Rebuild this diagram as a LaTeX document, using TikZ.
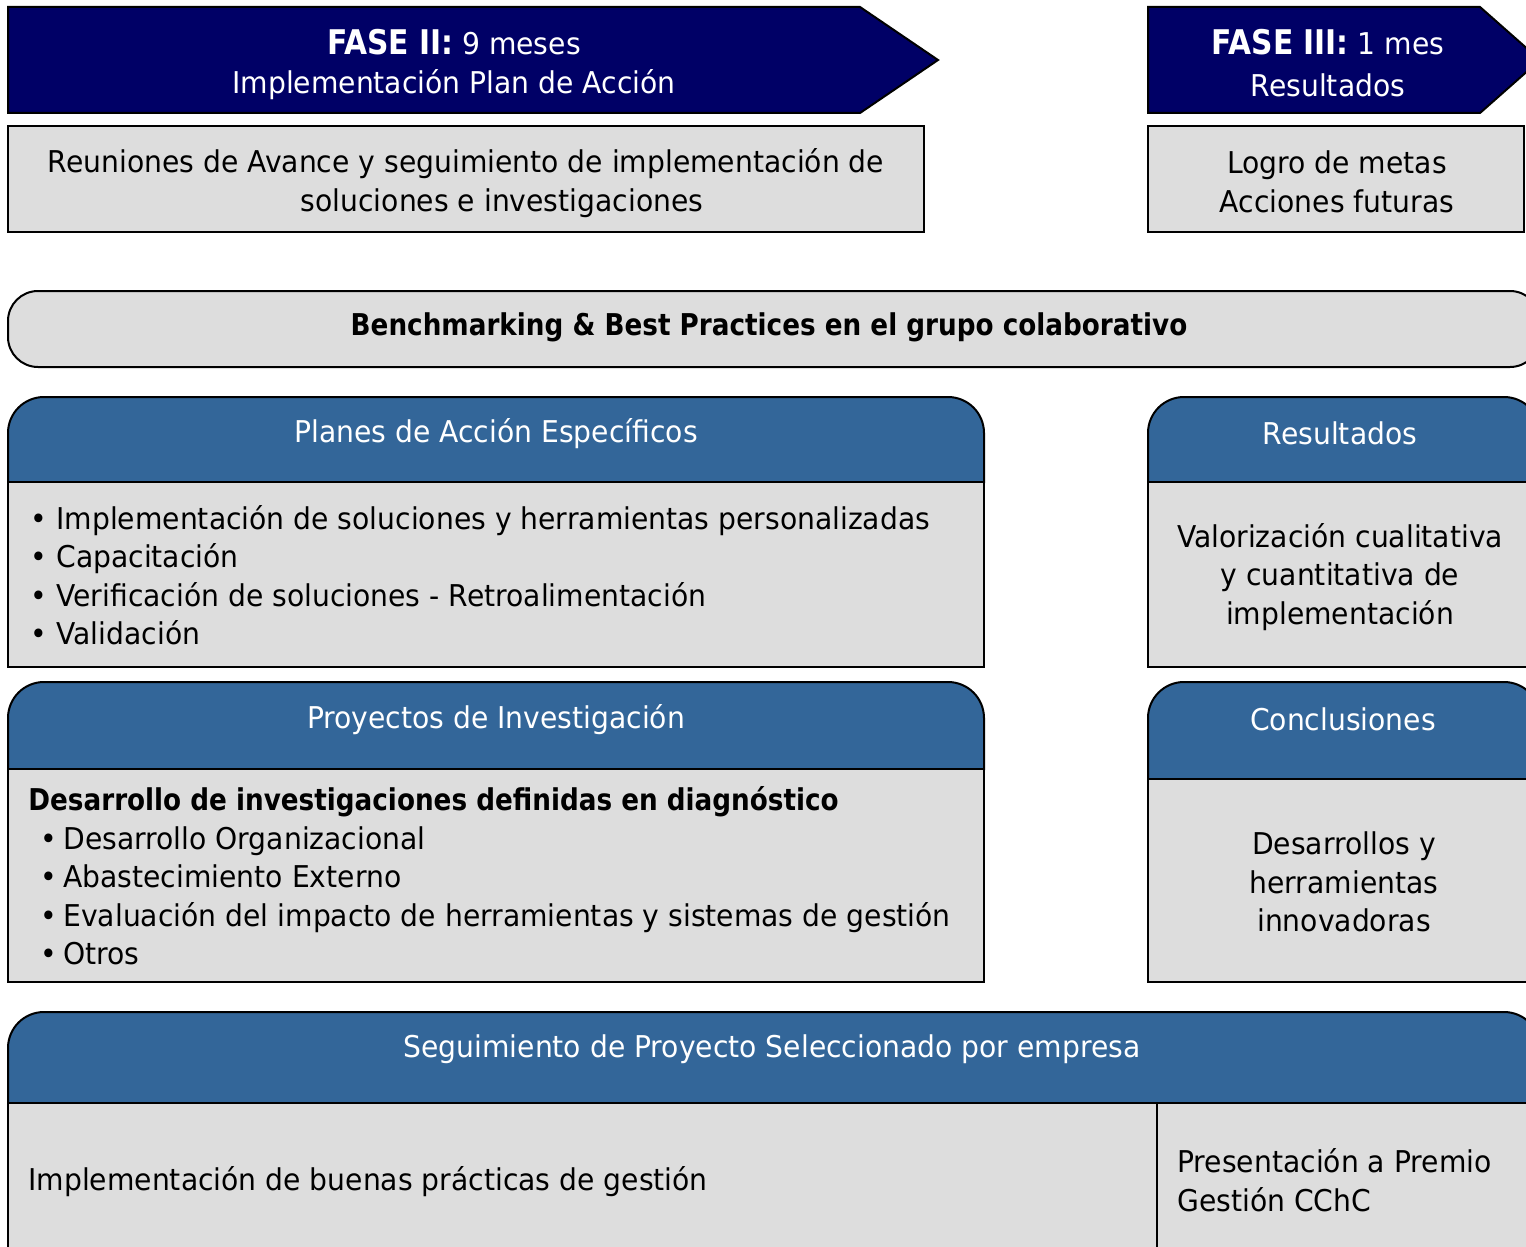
\documentclass[tikz,border=0pt]{standalone}
\usepackage{fontspec}
\setmainfont[FakeStretch=0.94,BoldFeatures={FakeStretch=0.875}]{DejaVu Sans}
\definecolor{navy}{HTML}{000066}
\definecolor{hblue}{HTML}{336699}
\definecolor{lgray}{HTML}{DDDDDD}
\tikzset{
  shp/.style={draw=black,line width=1pt},
  txt/.style={inner sep=0pt,font=\fontsize{15}{19.25}\selectfont},
  wtxt/.style={txt,text=white}
}
\newcommand{\bl}{\makebox[13pt][l]{•}}
\newcommand{\blb}{\makebox[11.5pt][l]{•}}
\begin{document}
\begin{tikzpicture}[x=0.5pt,y=-0.5pt]
\useasboundingbox (0,0) rectangle (1526,1247);
\clip (0,0) rectangle (1526,1247);
\fill[white] (0,0) rectangle (1526,1247);
% Phase arrows
\draw[shp,fill=navy] (8,7) -- (860,7) -- (938,60) -- (860,113) -- (8,113) -- cycle;
\draw[shp,fill=navy] (1148,7) -- (1480,7) -- (1540,60) -- (1480,113) -- (1148,113) -- cycle;
\node[wtxt] (f2a) at (454,42) {\textbf{\fontsize{17}{20}\selectfont FASE II:} 9 meses};
\node[wtxt] (f2b) at (454,85) {Implementación Plan de Acción};
\node[wtxt] (f3a) at (1328,42) {\textbf{\fontsize{17}{20}\selectfont FASE III:} 1 mes};
\node[wtxt] (f3b) at (1328,85) {Resultados};
% Boxes under phases
\draw[shp,fill=lgray] (8,126) rectangle (924,232);
\node[txt,align=center] (reu) at (466,183) {Reuniones de Avance y seguimiento de implementación de\\\hspace*{36pt}soluciones e investigaciones};
\draw[shp,fill=lgray] (1148,126) rectangle (1524,232);
\node[txt,align=center] (logro) at (1337,182) {Logro de metas\\Acciones futuras};
% Benchmarking
\draw[shp,fill=lgray,rounded corners=15] (8,291) rectangle (1540,367);
\node[txt,font=\fontsize{15}{19.25}\selectfont\bfseries] (bench) at (769,327) {Benchmarking \& Best Practices en el grupo colaborativo};
% Planes de Accion
\draw[shp,fill=hblue] (8,482) [rounded corners=18] -- (8,397) -- (984,397) [sharp corners] -- (984,482) -- cycle;
\draw[shp,fill=lgray] (8,482) rectangle (984,667);
\node[wtxt] (planesh) at (496,434) {Planes de Acción Específicos};
\node[txt,align=left,anchor=west] (planesb) at (30,575) {\bl Implementación de soluciones y herramientas personalizadas\\\bl Capacitación\\\bl Verificación de soluciones - Retroalimentación\\\bl Validación};
% Resultados
\draw[shp,fill=hblue] (1148,482) [rounded corners=18] -- (1148,397) -- (1540,397) [sharp corners] -- (1540,482) -- cycle;
\draw[shp,fill=lgray] (1148,482) rectangle (1540,667);
\node[wtxt] (resh) at (1340,433) {Resultados};
\node[txt,align=center] (resb) at (1340,577) {Valorización cualitativa\\y cuantitativa de\\implementación};
% Proyectos
\draw[shp,fill=hblue] (8,769) [rounded corners=18] -- (8,682) -- (984,682) [sharp corners] -- (984,769) -- cycle;
\draw[shp,fill=lgray] (8,769) rectangle (984,982);
\node[wtxt] (proyh) at (496,720) {Proyectos de Investigación};
\node[txt,align=left,anchor=west] (proyb) at (28,876) {\textbf{Desarrollo de investigaciones definidas en diagnóstico}\\\hspace*{6pt}\blb Desarrollo Organizacional\\\hspace*{6pt}\blb Abastecimiento Externo\\\hspace*{6pt}\blb Evaluación del impacto de herramientas y sistemas de gestión\\\hspace*{6pt}\blb Otros};
% Conclusiones
\draw[shp,fill=hblue] (1148,779) [rounded corners=18] -- (1148,682) -- (1540,682) [sharp corners] -- (1540,779) -- cycle;
\draw[shp,fill=lgray] (1148,779) rectangle (1540,982);
\node[wtxt] (conh) at (1343,719) {Conclusiones};
\node[txt,align=center] (conb) at (1344,882) {Desarrollos y\\herramientas\\innovadoras};
% Seguimiento
\draw[shp,fill=hblue] (8,1103) [rounded corners=18] -- (8,1012) -- (1540,1012) [sharp corners] -- (1540,1103) -- cycle;
\draw[shp,fill=lgray] (8,1103) rectangle (1157,1300);
\draw[shp,fill=lgray] (1157,1103) rectangle (1540,1300);
\node[wtxt] (segh) at (772,1049) {Seguimiento de Proyecto Seleccionado por empresa};
\node[txt,anchor=west] (segb1) at (28,1182) {Implementación de buenas prácticas de gestión};
\node[txt,align=left,anchor=west] (segb2) at (1177,1180) {Presentación a Premio\\Gestión CChC};
\end{tikzpicture}
\end{document}
